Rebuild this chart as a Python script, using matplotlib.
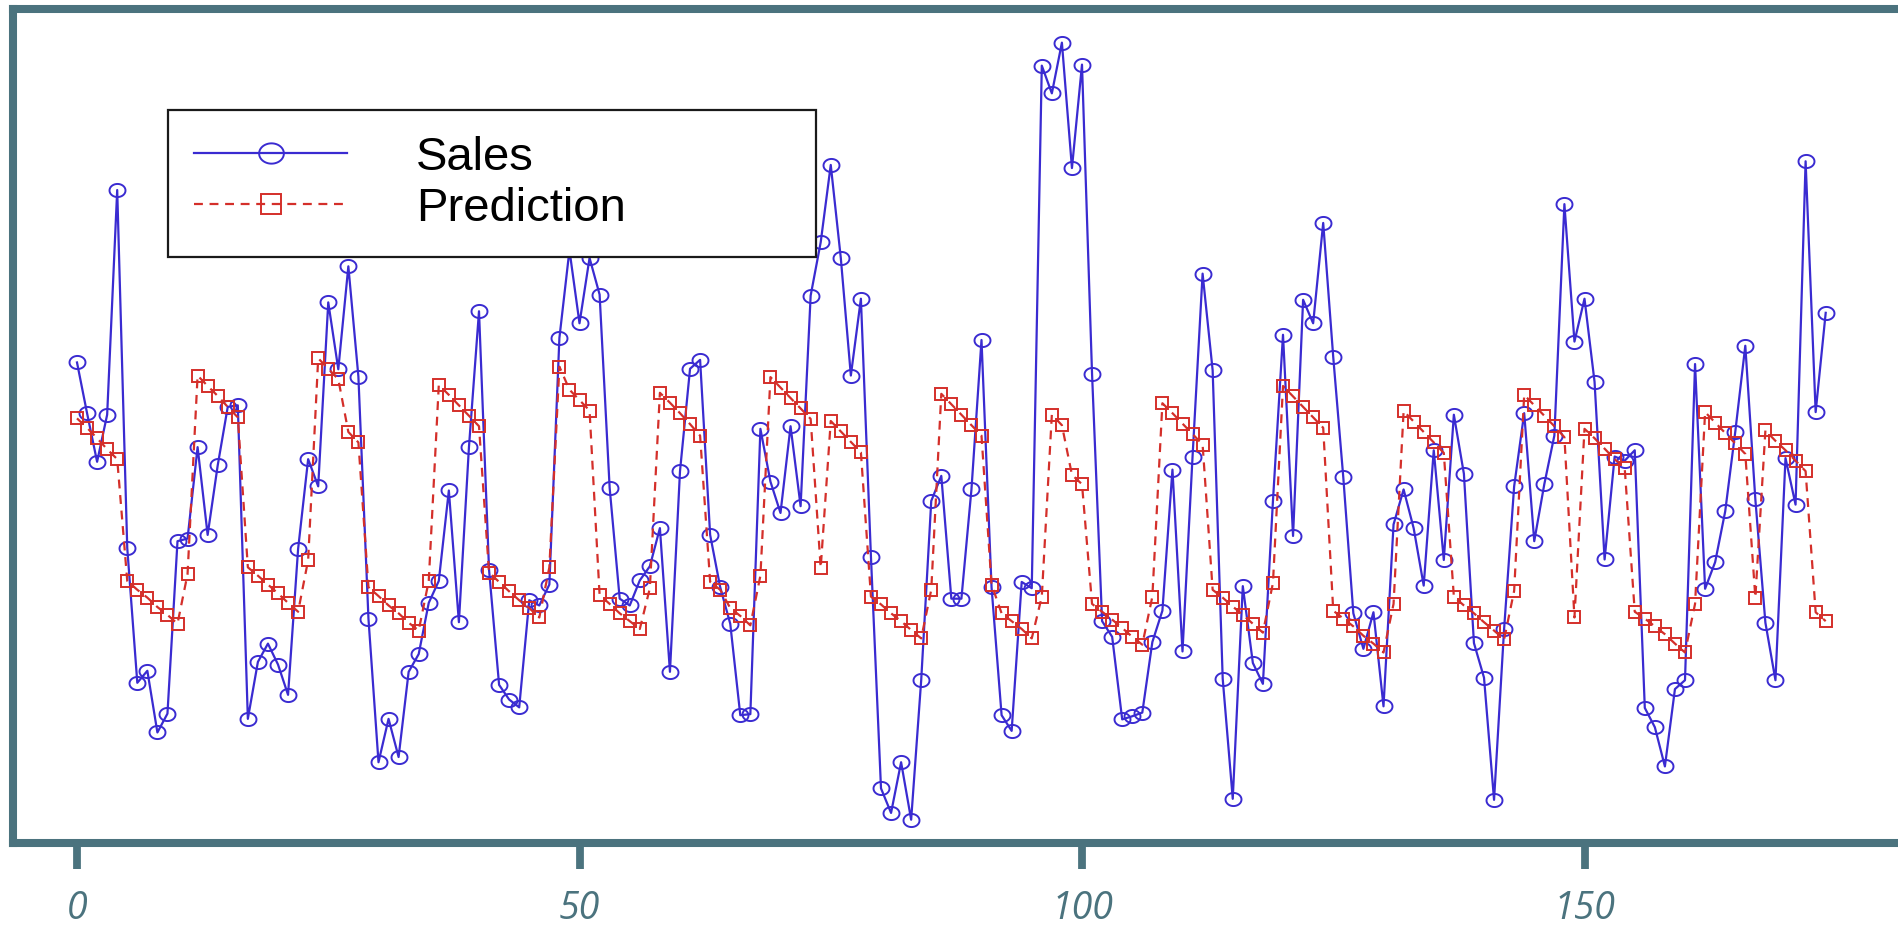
import numpy as np
import matplotlib
matplotlib.use("Agg")
import matplotlib.pyplot as plt
from matplotlib.path import Path

# Observed sales per period
sales = [
    9.40, 8.43, 7.50, 8.40, 12.70, 5.85, 3.27, 3.50, 2.32, 2.68,
    5.98, 6.03, 7.78, 6.10, 7.43, 8.55, 8.58, 2.58, 3.67, 4.02,
    3.62, 3.04, 5.83, 7.55, 7.03, 10.55, 9.27, 11.24, 9.13, 4.50,
    1.75, 2.58, 1.85, 3.48, 3.82, 4.80, 5.22, 6.95, 4.43, 7.78,
    10.38, 5.43, 3.23, 2.95, 2.80, 4.85, 4.75, 5.15, 9.87, 11.55,
    10.15, 11.40, 10.70, 7.00, 4.88, 4.75, 5.23, 5.50, 6.23, 3.48,
    7.32, 9.28, 9.45, 6.10, 5.10, 4.40, 2.65, 2.67, 8.13, 7.12,
    6.52, 8.18, 6.65, 10.68, 11.70, 13.18, 11.40, 9.15, 10.62, 5.68,
    1.25, 0.78, 1.75, 0.65, 3.32, 6.75, 7.23, 4.88, 4.88, 6.97,
    9.83, 5.10, 2.65, 2.35, 5.20, 5.08, 15.08, 14.55, 15.52, 13.12,
    15.10, 9.18, 4.45, 4.15, 2.57, 2.63, 2.70, 4.05, 4.65, 7.35,
    3.87, 7.60, 11.10, 9.25, 3.35, 1.05, 5.12, 3.65, 3.25, 6.75,
    9.93, 6.08, 10.60, 10.15, 12.07, 9.50, 7.20, 4.60, 3.92, 4.62,
    2.82, 6.30, 6.97, 6.23, 5.13, 7.72, 5.62, 8.40, 7.27, 4.03,
    3.37, 1.03, 4.30, 7.03, 8.43, 5.98, 7.07, 8.00, 12.43, 9.80,
    10.62, 9.03, 5.63, 7.60, 7.52, 7.72, 2.79, 2.42, 1.67, 3.15,
    3.32, 9.37, 5.07, 5.58, 6.55, 8.07, 9.72, 6.78, 4.42, 3.32,
    7.57, 6.68, 13.25, 8.45, 10.35,
]

# Model prediction per period
prediction = [
    8.33, 8.15, 7.95, 7.74, 7.55, 5.22, 5.05, 4.90, 4.72, 4.57,
    4.40, 5.35, 9.15, 8.95, 8.76, 8.55, 8.35, 5.48, 5.32, 5.15,
    4.98, 4.80, 4.63, 5.62, 9.48, 9.28, 9.08, 8.07, 7.87, 5.10,
    4.93, 4.75, 4.60, 4.42, 4.27, 5.22, 8.97, 8.78, 8.58, 8.38,
    8.18, 5.38, 5.20, 5.02, 4.85, 4.70, 4.52, 5.48, 9.32, 8.88,
    8.68, 8.48, 4.95, 4.78, 4.60, 4.45, 4.30, 5.08, 8.82, 8.63,
    8.43, 8.22, 8.00, 5.20, 5.05, 4.70, 4.55, 4.37, 5.32, 9.12,
    8.92, 8.72, 8.52, 8.32, 5.47, 8.28, 8.08, 7.88, 7.68, 4.92,
    4.77, 4.60, 4.45, 4.28, 4.12, 5.05, 8.80, 8.60, 8.40, 8.20,
    8.00, 5.15, 4.60, 4.45, 4.30, 4.12, 4.92, 8.40, 8.20, 7.25,
    7.07, 4.78, 4.63, 4.48, 4.32, 4.15, 4.00, 4.92, 8.62, 8.43,
    8.23, 8.03, 7.83, 5.05, 4.90, 4.73, 4.57, 4.40, 4.23, 5.18,
    8.95, 8.75, 8.55, 8.35, 8.15, 4.65, 4.50, 4.35, 4.17, 4.02,
    3.85, 4.78, 8.47, 8.27, 8.07, 7.87, 7.67, 4.92, 4.75, 4.60,
    4.43, 4.27, 4.10, 5.03, 8.78, 8.58, 8.38, 8.18, 7.97, 4.52,
    8.13, 7.95, 7.75, 7.55, 7.38, 4.63, 4.50, 4.35, 4.20, 4.02,
    3.85, 4.78, 8.45, 8.25, 8.05, 7.85, 7.65, 4.90, 8.10, 7.90,
    7.72, 7.52, 7.32, 4.62, 4.45,
]

series_labels = ["Sales", "Prediction"]
tick_values = [0, 50, 100, 150]
tick_labels = ["0", "50", "100", "150"]

FRAME = "#4b737e"
BLUE = "#3a2bd1"
RED = "#d42f2a"

# slightly flattened open circle used for the sales markers
theta = np.linspace(0, 2 * np.pi, 61)
ellipse = Path(np.column_stack([np.cos(theta), 0.82 * np.sin(theta)]), closed=True)

W, H = 1898, 930
fig = plt.figure(figsize=(W / 100, H / 100), dpi=100)

# axes placed in pixels: frame runs off the right edge of the canvas
left_px, top_px, bottom_px = 13, 9, 842.5
px_per_step = 10.05
first_px = 77.0
x0 = -(first_px - left_px) / px_per_step
x1 = 186.0
ax_w = (x1 - x0) * px_per_step
ax = fig.add_axes([left_px / W, (H - bottom_px) / H, ax_w / W, (bottom_px - top_px) / H])

x = np.arange(len(sales))
ax.plot(x, sales, color=BLUE, lw=1.6, marker=ellipse, markersize=11.5,
        markerfacecolor="none", markeredgecolor=BLUE, markeredgewidth=1.4,
        label=series_labels[0])
ax.plot(x, prediction, color=RED, lw=1.6, ls=(0, (4.0, 3.0)), marker="s",
        markersize=9.0, markerfacecolor="none", markeredgecolor=RED,
        markeredgewidth=1.4, label=series_labels[1])

ax.set_xlim(x0, x1)
ax.set_ylim(0.214, 16.164)

for side in ["left", "right", "top", "bottom"]:
    ax.spines[side].set_color(FRAME)
    ax.spines[side].set_linewidth(5.8)
    ax.spines[side].set_capstyle("projecting")

ax.set_yticks([])
ax.set_xticks(tick_values)
ax.set_xticklabels(tick_labels)
ax.tick_params(axis="x", direction="out", length=19, width=5.6, color=FRAME,
               pad=15, labelsize=27, labelcolor=FRAME)
for lab in ax.get_xticklabels():
    lab.set_fontfamily(["Open Sans", "DejaVu Sans"])
    lab.set_fontstyle("italic")

leg = ax.legend(
    loc="upper left",
    bbox_to_anchor=(168 / W, 0.2, 648 / W, 1 - 110 / H - 0.2),
    bbox_transform=fig.transFigure,
    mode="expand",
    borderaxespad=0,
    prop={"family": ["Liberation Sans", "DejaVu Sans"], "size": 34},
    handlelength=3.25,
    handletextpad=1.45,
    borderpad=0.55,
    labelspacing=0.14,
    handleheight=0.7,
    markerscale=1.55,
    numpoints=1,
    fancybox=False,
    framealpha=1,
    edgecolor="#1a1a1a",
)
leg.get_frame().set_linewidth(1.6)

fig.savefig("out.png", dpi=100)
